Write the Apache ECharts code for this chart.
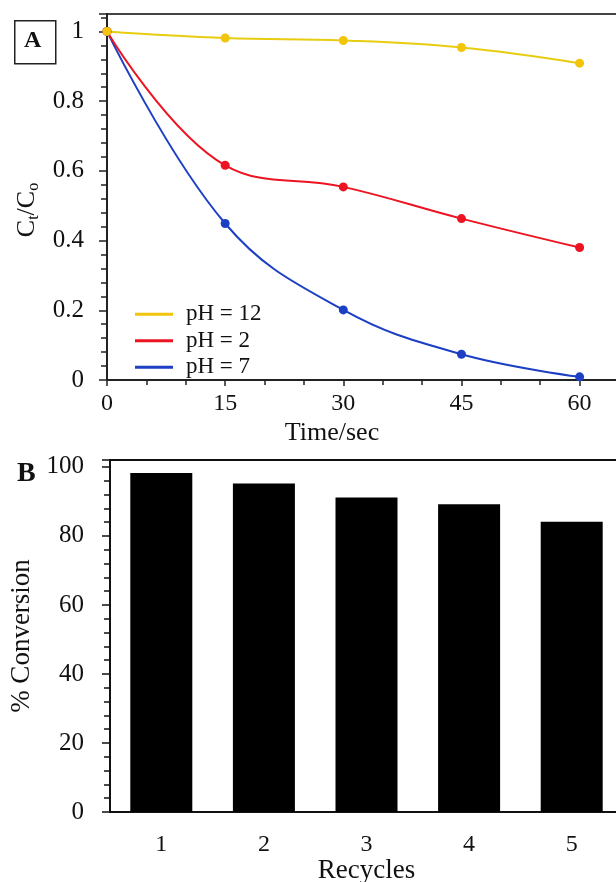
<!DOCTYPE html>
<html>
<head>
<meta charset="utf-8">
<script src="https://cdn.jsdelivr.net/npm/echarts@6/dist/echarts.min.js"></script>
<style>
html,body{margin:0;padding:0;background:#fff;}
#c{width:616px;height:882px;}
</style>
</head>
<body>
<div id="c"></div>
<script>
// Panel A data
var timeSec = [0, 15, 30, 45, 60];
var pH12 = [1.0, 0.981, 0.974, 0.954, 0.909];
var pH2 = [1.0, 0.616, 0.554, 0.463, 0.380];
var pH7 = [1.0, 0.449, 0.201, 0.074, 0.009];
var seriesNames = ['pH = 12', 'pH = 2', 'pH = 7'];
// Panel B data
var recycles = ['1', '2', '3', '4', '5'];
var conversion = [98.2, 95.2, 91.1, 89.2, 84.1];

function pairs(xs, ys) { return xs.map(function (x, i) { return [x, ys[i]]; }); }

var FONT = '"Liberation Serif", "Times New Roman", serif';
var chart = echarts.init(document.getElementById('c'), null, { renderer: 'canvas' });

var lineCommon = {
  type: 'line', xAxisIndex: 0, yAxisIndex: 0,
  smooth: 0.4, symbol: 'circle', symbolSize: 9,
  lineStyle: { width: 2 }
};

var option = {
  backgroundColor: '#fff',
  animation: false,
  textStyle: { fontFamily: FONT, color: '#111' },
  grid: [
    { left: 107, top: 14, width: 512, height: 366, outerBoundsMode: 'none', containLabel: false, show: true, borderColor: '#444', borderWidth: 2, backgroundColor: 'transparent' },
    { left: 110, top: 460, width: 513, height: 352, outerBoundsMode: 'none', containLabel: false, show: true, borderColor: '#111', borderWidth: 2, backgroundColor: 'transparent' }
  ],
  legend: {
    left: 130, top: 296, orient: 'vertical', icon: 'rect',
    itemWidth: 38, itemHeight: 3, itemGap: 0,
    data: seriesNames,
    textStyle: { fontFamily: FONT, fontSize: 23, color: '#111', lineHeight: 26.5, padding: [0, 0, 0, 8] }
  },
  xAxis: [
    {
      type: 'value', gridIndex: 0, min: 0, max: 65, interval: 15,
      name: 'Time/sec', nameLocation: 'middle', nameGap: 40,
      nameTextStyle: { fontFamily: FONT, fontSize: 26, color: '#111', padding: [0, 62, 0, 0] },
      axisLine: { show: true, lineStyle: { color: '#222', width: 2 } },
      axisTick: { show: true, length: 6, lineStyle: { color: '#222', width: 1.5 } },
      minorTick: { show: true, splitNumber: 3, length: 5, lineStyle: { color: '#222', width: 1.5 } },
      axisLabel: { fontFamily: FONT, fontSize: 24, color: '#111', margin: 12, showMaxLabel: false },
      splitLine: { show: false }
    },
    {
      type: 'category', gridIndex: 1, data: recycles,
      name: 'Recycles', nameLocation: 'middle', nameGap: 41,
      nameTextStyle: { fontFamily: FONT, fontSize: 27, color: '#111' },
      axisLine: { show: true, lineStyle: { color: '#111', width: 2 } },
      axisTick: { show: false },
      axisLabel: { fontFamily: FONT, fontSize: 24, color: '#111', margin: 21 },
      splitLine: { show: false }
    }
  ],
  yAxis: [
    {
      type: 'value', gridIndex: 0, min: 0, max: 1.05, interval: 0.2,
      name: '{c|C}{s|t}{c|/C}{s|o}', nameLocation: 'middle', nameGap: 64, nameRotate: 90,
      nameTextStyle: {
        padding: [0, 26, 0, 0],
        rich: {
          c: { fontFamily: FONT, fontSize: 26, color: '#111', lineHeight: 30, verticalAlign: 'middle' },
          s: { fontFamily: FONT, fontSize: 16, color: '#111', lineHeight: 30, verticalAlign: 'bottom' }
        }
      },
      axisLine: { show: true, lineStyle: { color: '#222', width: 2 } },
      axisTick: { show: true, length: 8, lineStyle: { color: '#222', width: 1.5 } },
      minorTick: { show: true, splitNumber: 5, length: 6, lineStyle: { color: '#222', width: 1.5 } },
      axisLabel: { fontFamily: FONT, fontSize: 25, color: '#111', margin: 23, showMaxLabel: false,
        formatter: function (v) { return String(Math.round(v * 10) / 10); } },
      splitLine: { show: false }
    },
    {
      type: 'value', gridIndex: 1, min: 0, max: 102, interval: 20,
      name: '% Conversion', nameLocation: 'middle', nameGap: 63, nameRotate: 90,
      nameTextStyle: { fontFamily: FONT, fontSize: 27, color: '#111' },
      axisLine: { show: true, lineStyle: { color: '#111', width: 2 } },
      axisTick: { show: true, length: 8, lineStyle: { color: '#111', width: 1.5 } },
      minorTick: { show: true, splitNumber: 5, length: 6, lineStyle: { color: '#111', width: 1.5 } },
      axisLabel: { fontFamily: FONT, fontSize: 25, color: '#111', margin: 26, showMaxLabel: false },
      splitLine: { show: false }
    }
  ],
  series: [
    Object.assign({}, lineCommon, { name: seriesNames[2], data: pairs(timeSec, pH7), itemStyle: { color: '#1d3fc4' }, lineStyle: { width: 2, color: '#1d3fc4' } }),
    Object.assign({}, lineCommon, { name: seriesNames[1], data: pairs(timeSec, pH2), itemStyle: { color: '#ec1422' }, lineStyle: { width: 2, color: '#ec1422' } }),
    Object.assign({}, lineCommon, { name: seriesNames[0], data: pairs(timeSec, pH12), itemStyle: { color: '#f2c40c' }, lineStyle: { width: 2, color: '#e8cc10' } }),
    {
      type: 'bar', xAxisIndex: 1, yAxisIndex: 1, data: conversion,
      barWidth: 62, itemStyle: { color: '#000' }
    }
  ],
  graphic: [
    { type: 'rect', left: 14, top: 20, shape: { width: 41, height: 43 }, style: { fill: '#fff', stroke: '#222', lineWidth: 1.5 } },
    { type: 'text', left: 24, top: 29, style: { text: 'A', font: 'bold 24px ' + FONT, fill: '#111' } },
    { type: 'text', left: 17, top: 460, style: { text: 'B', font: 'bold 28px ' + FONT, fill: '#111' } }
  ]
};
chart.setOption(option);
</script>
</body>
</html>
